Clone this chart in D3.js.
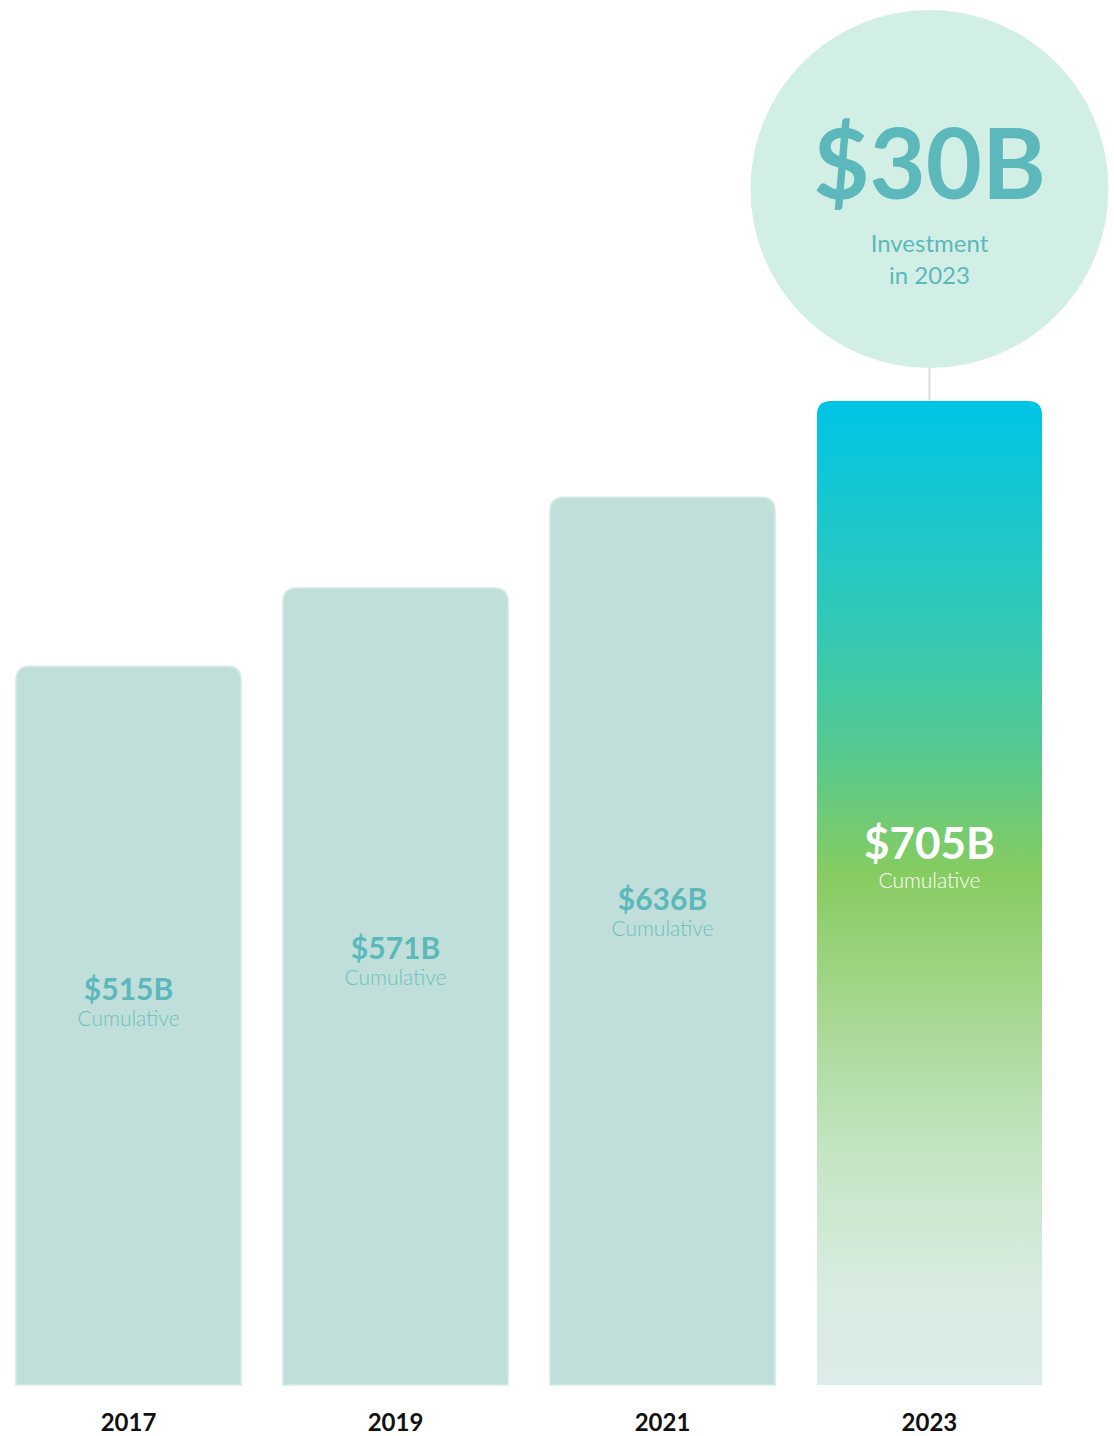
<!DOCTYPE html>
<html>
<head>
<meta charset="utf-8">
<script src="https://cdn.jsdelivr.net/npm/d3@7"></script>
<style>
  body { margin: 0; background: #fff; }
  svg { display: block; font-family: "Source Sans Pro", Lato, "Noto Sans", sans-serif; }
</style>
</head>
<body>
<div id="chart"></div>
<script>
// Cumulative investment by year, in $B
const years = ["2017", "2019", "2021", "2023"];
const cumulative = [515, 571, 636, 705];
const valueLabels = ["$515B", "$571B", "$636B", "$705B"];
const subLabel = "Cumulative";
const highlightValue = "$30B";
const highlightLines = ["Investment", "in 2023"];

const width = 1114;
const height = 1436;
const baseY = 1385;
const topY = 401;

const svg = d3.select("#chart").append("svg")
  .attr("width", width)
  .attr("height", height);

const x = d3.scaleBand()
  .domain(years)
  .range([16, 1042])
  .paddingInner(0.157)
  .paddingOuter(0);

const y = d3.scaleLinear()
  .domain([0, d3.max(cumulative)])
  .range([baseY, topY]);

// gradient for the highlighted (last) bar
const defs = svg.append("defs");
const grad = defs.append("linearGradient")
  .attr("id", "hl")
  .attr("x1", 0).attr("y1", 0).attr("x2", 0).attr("y2", 1);
[
  [0, "#00c4e6"],
  [0.12, "#1bc7cc"],
  [0.24, "#35c9b3"],
  [0.36, "#57c98f"],
  [0.48, "#86cc60"],
  [0.62, "#a6d890"],
  [0.76, "#c4e4c2"],
  [0.9, "#d8ece0"],
  [1, "#dcecea"]
].forEach(([o, c]) => grad.append("stop").attr("offset", o).attr("stop-color", c));

// bar with rounded top corners only
const barPath = (x0, y0, w, h, r) =>
  `M${x0},${y0 + h}V${y0 + r}Q${x0},${y0} ${x0 + r},${y0}H${x0 + w - r}Q${x0 + w},${y0} ${x0 + w},${y0 + r}V${y0 + h}Z`;

const data = years.map((yr, i) => ({ year: yr, value: cumulative[i], label: valueLabels[i], last: i === years.length - 1 }));

const bars = svg.append("g")
  .selectAll("g")
  .data(data)
  .join("g");

bars.append("path")
  .attr("d", d => barPath(x(d.year), y(d.value), x.bandwidth(), baseY - y(d.value), 14))
  .attr("fill", d => d.last ? "url(#hl)" : "#c0dfda")
  .attr("stroke", d => d.last ? "none" : "#d4ebe7")
  .attr("stroke-width", 1.5);

const cx = d => x(d.year) + x.bandwidth() / 2;
const labelY = d => y(d.value) + (baseY - y(d.value)) * 0.465;

bars.append("text")
  .attr("x", cx)
  .attr("y", labelY)
  .attr("text-anchor", "middle")
  .attr("font-weight", 700)
  .attr("font-size", d => d.last ? 44 : 30)
  .attr("fill", d => d.last ? "#fff" : "#5cb8bb")
  .text(d => d.label);

bars.append("text")
  .attr("x", cx)
  .attr("y", d => labelY(d) + (d.last ? 29 : 26))
  .attr("text-anchor", "middle")
  .attr("font-weight", 300)
  .attr("font-size", 21)
  .attr("fill", d => d.last ? "#fff" : "#6cc0c2")
  .text(subLabel);

// year labels
bars.append("text")
  .attr("x", cx)
  .attr("y", 1431)
  .attr("text-anchor", "middle")
  .attr("font-weight", 700)
  .attr("font-size", 24)
  .attr("fill", "#111")
  .text(d => d.year);

// callout circle over last bar
const last = data[data.length - 1];
const ccx = cx(last);
const ccy = 189;
const cr = 179;

svg.append("line")
  .attr("x1", ccx).attr("x2", ccx)
  .attr("y1", ccy + cr - 2).attr("y2", y(last.value))
  .attr("stroke", "#dcdcdc")
  .attr("stroke-width", 2);

svg.append("circle")
  .attr("cx", ccx).attr("cy", ccy).attr("r", cr)
  .attr("fill", "#d2efe5");

svg.append("text")
  .attr("x", ccx).attr("y", 199)
  .attr("text-anchor", "middle")
  .attr("font-weight", 700)
  .attr("font-size", 97)
  .attr("fill", "#5cb8bb")
  .text(highlightValue);

svg.append("g")
  .selectAll("text")
  .data(highlightLines)
  .join("text")
  .attr("x", ccx)
  .attr("y", (d, i) => 252 + i * 32)
  .attr("text-anchor", "middle")
  .attr("font-size", 24)
  .attr("fill", "#5cb8bb")
  .text(d => d);
</script>
</body>
</html>
